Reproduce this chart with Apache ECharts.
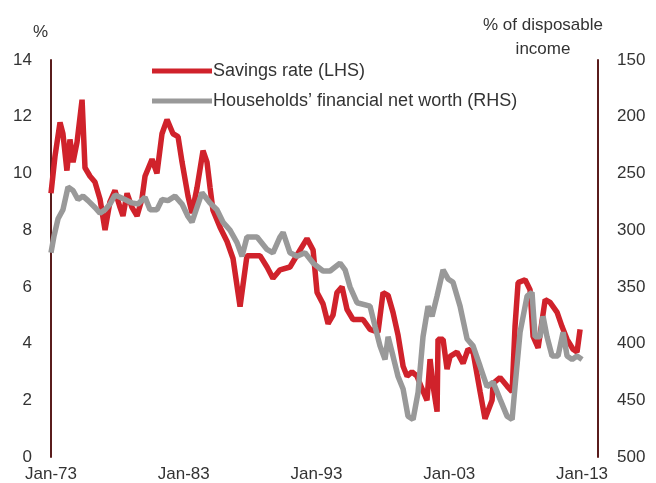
<!DOCTYPE html>
<html>
<head>
<meta charset="utf-8">
<script src="https://cdn.jsdelivr.net/npm/echarts@6/dist/echarts.min.js"></script>
<style>
  html, body { margin: 0; padding: 0; background: #fff; }
  #chart { width: 656px; height: 483px; }
</style>
</head>
<body>
<div id="chart"></div>
<script>
// savings rate, % (LHS)
var savingsYears = [1973.0, 1973.3, 1973.68, 1973.9, 1974.2, 1974.43, 1974.66, 1974.96, 1975.34, 1975.56,
  1975.94, 1976.31, 1976.69, 1977.07, 1977.44, 1977.82, 1978.2, 1978.42, 1978.73, 1979.1,
  1979.48, 1979.85, 1980.08, 1980.61, 1980.98, 1981.36, 1981.74, 1982.19, 1982.57, 1982.87,
  1983.32, 1983.62, 1984.0, 1984.45, 1984.75, 1984.98, 1985.2, 1985.73, 1986.26, 1986.71,
  1987.24, 1987.76, 1988.74, 1989.27, 1989.72, 1990.25, 1991.0, 1991.76, 1992.28, 1992.74,
  1993.04, 1993.49, 1993.87, 1994.24, 1994.54, 1994.92, 1995.3, 1995.75, 1996.5, 1997.03,
  1997.63, 1998.01, 1998.39, 1998.76, 1999.14, 1999.52, 1999.82, 2000.19, 2000.57, 2000.95,
  2001.32, 2001.55, 2001.78, 2002.08, 2002.15, 2002.53, 2002.83, 2003.06, 2003.58, 2004.04,
  2004.41, 2004.79, 2005.32, 2005.69, 2006.22, 2006.3, 2006.82, 2007.35, 2007.73, 2007.95,
  2008.18, 2008.71, 2009.08, 2009.31, 2009.69, 2010.22, 2010.59, 2011.12, 2011.49, 2011.87,
  2012.32, 2012.62, 2012.85]
var savingsRate = [9.3, 10.6, 11.8, 11.4, 10.1, 11.2, 10.4, 11.1, 12.6, 10.2,
  9.9, 9.7, 9.1, 8.0, 9.0, 9.4, 8.8, 8.5, 9.3, 8.8,
  8.5, 9.1, 9.9, 10.5, 10.0, 11.4, 11.9, 11.4, 11.3, 10.4,
  9.2, 8.6, 9.5, 10.8, 10.4, 9.5, 8.7, 8.1, 7.6, 7.0,
  5.3, 7.1, 7.1, 6.7, 6.3, 6.6, 6.7, 7.3, 7.7, 7.3,
  5.8, 5.4, 4.7, 5.0, 5.8, 6.0, 5.2, 4.85, 4.85, 4.5,
  4.4, 5.8, 5.7, 5.1, 4.3, 3.2, 2.85, 3.0, 2.85, 2.4,
  2.0, 3.45, 2.5, 1.6, 4.15, 4.15, 3.1, 3.55, 3.7, 3.3,
  3.8, 3.7, 2.3, 1.35, 2.0, 2.6, 2.8, 2.5, 2.3, 4.6,
  6.15, 6.25, 5.9, 4.25, 3.85, 5.55, 5.45, 5.1, 4.6, 4.15,
  3.8, 3.7, 4.5]

// households' financial net worth, % of disposable income (RHS, inverted)
var netWorthYears = [1973.0, 1973.23, 1973.53, 1973.9, 1974.28, 1974.66, 1975.03, 1975.41, 1975.79, 1976.31,
  1976.69, 1977.07, 1977.44, 1977.82, 1978.2, 1978.57, 1979.1, 1979.55, 1980.08, 1980.46,
  1980.98, 1981.36, 1981.81, 1982.34, 1982.87, 1983.32, 1983.62, 1984.37, 1984.98, 1985.5,
  1985.96, 1986.48, 1987.01, 1987.39, 1987.76, 1988.52, 1989.27, 1989.72, 1990.25, 1990.48,
  1991.0, 1991.53, 1992.13, 1992.74, 1993.49, 1994.02, 1994.77, 1995.15, 1995.52, 1996.05,
  1997.03, 1997.41, 1997.78, 1998.16, 1998.39, 1998.76, 1999.14, 1999.52, 1999.89, 2000.27,
  2000.65, 2001.02, 2001.4, 2001.7, 2002.08, 2002.53, 2002.91, 2003.28, 2003.81, 2004.34,
  2004.79, 2005.32, 2005.84, 2006.3, 2006.82, 2007.35, 2007.73, 2007.95, 2008.33, 2008.86,
  2009.23, 2009.46, 2009.84, 2010.06, 2010.36, 2010.74, 2011.19, 2011.57, 2011.87, 2012.25,
  2012.62, 2013.0]
var netWorth = [320, 305, 290, 282, 262, 265, 273, 270, 274, 280,
  285, 282, 277, 269, 271, 273, 276, 277, 271, 282,
  282, 273, 274, 270, 277, 288, 293, 267, 276, 282,
  293, 300, 311, 323, 306, 306, 317, 320, 306, 302,
  320, 323, 320, 329, 336, 336, 329, 335, 350, 364,
  367, 385, 402, 414, 394, 411, 429, 440, 464, 467,
  443, 394, 367, 376, 358, 335, 343, 346, 367, 396,
  402, 420, 438, 434, 449, 464, 467, 438, 390, 358,
  355, 394, 394, 376, 394, 411, 411, 390, 411, 414,
  411, 414]

var fontName = 'Liberation Sans, Arial, sans-serif'
var textColor = '#333333'
var axisColor = '#5a1c1c'

function pairs(xs, ys) {
  return xs.map(function (x, i) { return [x, ys[i]] })
}

var chart = echarts.init(document.getElementById('chart'))
chart.setOption({
  animation: false,
  textStyle: { fontFamily: fontName },
  grid: { left: 51, right: 58, top: 60, bottom: 25, containLabel: false },
  legend: {
    orient: 'vertical',
    left: 152,
    top: 62,
    padding: 0,
    itemGap: 12,
    itemWidth: 60,
    itemHeight: 5,
    icon: 'rect',
    textStyle: { fontSize: 18, color: textColor, fontFamily: fontName, padding: [0, 0, 0, -4] },
    data: ['Savings rate (LHS)', 'Households\u2019 financial net worth (RHS)']
  },
  graphic: [
    { type: 'text', x: 33, y: 24, style: { text: '%', font: '17px ' + fontName, fill: textColor } },
    {
      type: 'text', x: 543, y: 13,
      style: { text: '% of disposable\nincome', font: '17px ' + fontName, fill: textColor, align: 'center', lineHeight: 24 }
    }
  ],
  xAxis: {
    type: 'value',
    min: 1973,
    max: 2014.2,
    interval: 10,
    axisLine: { show: false },
    axisTick: { show: false },
    splitLine: { show: false },
    axisLabel: {
      fontSize: 17,
      color: textColor,
      margin: 9,
      showMaxLabel: false,
      formatter: function (v) {
        if (Math.abs((v - 1973) % 10) > 0.01) return ''
        var yy = Math.round(v) % 100
        return 'Jan-' + (yy < 10 ? '0' + yy : yy)
      }
    }
  },
  yAxis: [{
    type: 'value',
    min: 0,
    max: 14,
    interval: 2,
    axisLine: { show: true, lineStyle: { color: axisColor, width: 2 } },
    axisTick: { show: false },
    splitLine: { show: false },
    axisLabel: { fontSize: 17, color: textColor, margin: 19 }
  }, {
    type: 'value',
    position: 'right',
    inverse: true,
    min: 150,
    max: 500,
    interval: 50,
    axisLine: { show: true, lineStyle: { color: axisColor, width: 2 } },
    axisTick: { show: false },
    splitLine: { show: false },
    axisLabel: { fontSize: 17, color: textColor, margin: 19 }
  }],
  series: [{
    name: 'Savings rate (LHS)',
    type: 'line',
    yAxisIndex: 0,
    showSymbol: false,
    color: '#d0222b',
    lineStyle: { color: '#d0222b', width: 5.5 },
    data: pairs(savingsYears, savingsRate)
  }, {
    name: 'Households\u2019 financial net worth (RHS)',
    type: 'line',
    yAxisIndex: 1,
    showSymbol: false,
    color: '#999999',
    lineStyle: { color: '#999999', width: 5.5 },
    data: pairs(netWorthYears, netWorth)
  }]
})
</script>
</body>
</html>
